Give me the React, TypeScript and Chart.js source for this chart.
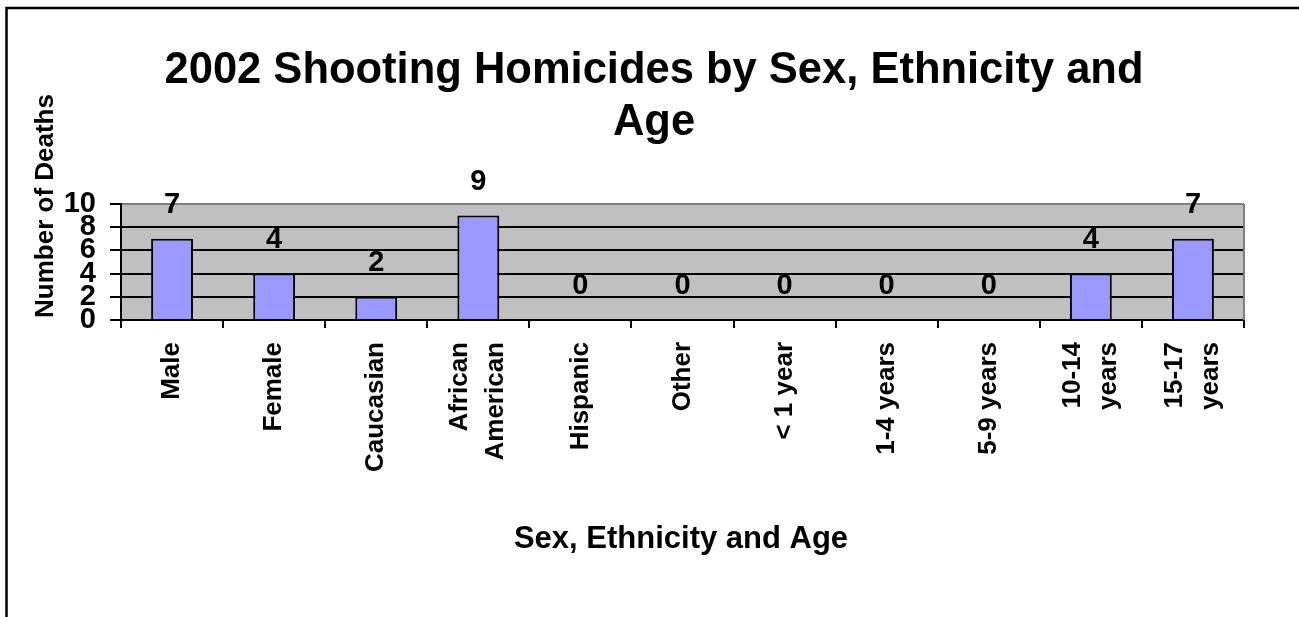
import React, { useEffect, useRef } from "react";
import { Chart, registerables } from "chart.js";

Chart.register(...registerables);

// ---- data ----
const categories: string[][] = [
  ["Male"],
  ["Female"],
  ["Caucasian"],
  ["African", "American"],
  ["Hispanic"],
  ["Other"],
  ["< 1 year"],
  ["1-4 years"],
  ["5-9 years"],
  ["10-14", "years"],
  ["15-17", "years"],
];
const deaths: number[] = [7, 4, 2, 9, 0, 0, 0, 0, 0, 4, 7];
const yMin = 0;
const yMax = 10;
const yStep = 2;
const chartTitle: string[] = ["2002 Shooting Homicides by Sex, Ethnicity and", "Age"];
const xTitle = "Sex, Ethnicity and Age";
const yTitle = "Number of Deaths";

const FONT = '"Liberation Sans", Arial, Helvetica, sans-serif';

const decor = {
  id: "decor",
  beforeDraw(chart: any) {
    const { ctx, chartArea: a } = chart;
    ctx.save();
    ctx.fillStyle = "#ffffff";
    ctx.fillRect(0, 0, chart.width, chart.height);
    ctx.fillStyle = "#c0c0c0";
    ctx.fillRect(a.left, a.top, a.right - a.left, a.bottom - a.top);
    ctx.strokeStyle = "#000000";
    ctx.lineWidth = 2.5;
    ctx.strokeRect(6.5, 8, chart.width + 40, chart.height + 40);
    ctx.restore();
  },
  beforeDatasetsDraw(chart: any) {
    const { ctx, chartArea: a } = chart;
    ctx.save();
    ctx.strokeStyle = "#808080";
    ctx.lineWidth = 2;
    ctx.beginPath();
    ctx.moveTo(a.right, a.top);
    ctx.lineTo(a.right, a.bottom);
    ctx.stroke();
    ctx.restore();
  },
  afterDraw(chart: any) {
    const { ctx, chartArea: a } = chart;
    const xs = chart.scales.x;
    ctx.save();
    ctx.fillStyle = "#000000";

    // main title
    ctx.font = `bold 43.5px ${FONT}`;
    ctx.textAlign = "center";
    ctx.textBaseline = "alphabetic";
    ctx.fillText(chartTitle[0], 654, 83);
    ctx.fillText(chartTitle[1], 654, 135);

    // y axis title
    ctx.save();
    ctx.translate(53, 206);
    ctx.rotate(-Math.PI / 2);
    ctx.font = `bold 26px ${FONT}`;
    ctx.textAlign = "center";
    ctx.textBaseline = "alphabetic";
    ctx.fillText(yTitle, 0, 0);
    ctx.restore();

    // x tick labels (rotated)
    ctx.font = `bold 26px ${FONT}`;
    categories.forEach((lines, i) => {
      const cx = xs.getPixelForValue(i);
      lines.forEach((line, j) => {
        const off = (j - (lines.length - 1) / 2) * 36;
        ctx.save();
        ctx.translate(cx + off, a.bottom + 22);
        ctx.rotate(-Math.PI / 2);
        ctx.textAlign = "right";
        ctx.textBaseline = "middle";
        ctx.fillText(line, 0, 0);
        ctx.restore();
      });
    });

    // x axis title
    ctx.font = `bold 31px ${FONT}`;
    ctx.textAlign = "center";
    ctx.textBaseline = "alphabetic";
    ctx.fillText(xTitle, 681, 548);

    // data labels
    const meta = chart.getDatasetMeta(0);
    ctx.font = `bold 29px ${FONT}`;
    ctx.textAlign = "center";
    ctx.textBaseline = "middle";
    meta.data.forEach((bar: any, i: number) => {
      ctx.fillText(String(deaths[i]), bar.x, bar.y - 34);
    });
    ctx.restore();
  },
};

export default function App() {
  const ref = useRef<HTMLCanvasElement | null>(null);

  useEffect(() => {
    if (!ref.current) return;
    const chart = new Chart(ref.current, {
      type: "bar",
      data: {
        labels: categories.map((c) => c.join(" ")),
        datasets: [
          {
            data: deaths,
            backgroundColor: "#9999ff",
            borderColor: "#000000",
            borderWidth: 2,
            barPercentage: 0.41,
            categoryPercentage: 1,
          },
        ],
      },
      options: {
        responsive: false,
        animation: false,
        devicePixelRatio: 1,
        layout: { padding: { left: 8, top: 204, right: 55, bottom: 0 } },
        plugins: {
          legend: { display: false },
          title: { display: false },
          tooltip: { enabled: false },
        },
        scales: {
          x: {
            offset: true,
            grid: {
              offset: true,
              drawOnChartArea: false,
              drawTicks: true,
              tickLength: 8,
              color: "#000000",
              lineWidth: 2,
            },
            border: { display: true, color: "#000000", width: 2 },
            ticks: { display: false },
            afterFit: (s: any) => {
              s.height = 297;
            },
          },
          y: {
            min: yMin,
            max: yMax,
            ticks: {
              stepSize: yStep,
              autoSkip: false,
              color: "#000000",
              padding: 14,
              font: { family: FONT, size: 29, weight: "bold" },
            },
            grid: {
              color: (c: any) => (c.tick && c.tick.value === yMax ? "#808080" : "#000000"),
              tickColor: "#000000",
              lineWidth: 2,
              tickLength: 11,
            },
            border: { display: true, color: "#000000", width: 2 },
            afterFit: (s: any) => {
              s.width = 113;
            },
          },
        },
      },
      plugins: [decor],
    } as any);
    return () => chart.destroy();
  }, []);

  return (
    <div style={{ position: "fixed", left: 0, top: 0, width: 1299, height: 617, background: "#fff" }}>
      <canvas ref={ref} width={1299} height={617} style={{ display: "block" }} />
    </div>
  );
}
